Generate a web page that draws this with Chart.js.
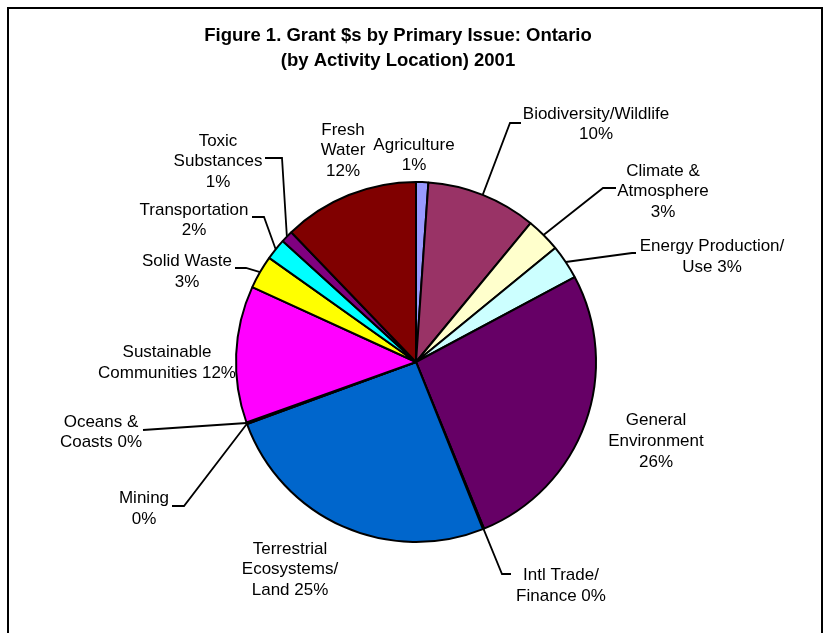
<!DOCTYPE html>
<html>
<head>
<meta charset="utf-8">
<script src="https://cdn.jsdelivr.net/npm/chart.js@4"></script>
<style>
html,body{margin:0;padding:0;background:#fff;}
#wrap{width:831px;height:633px;position:relative;}
</style>
</head>
<body>
<div id="wrap"><canvas id="c" width="831" height="633"></canvas></div>
<script>
// ---- data ----
const categories = ["Agriculture","Biodiversity/Wildlife","Climate & Atmosphere","Energy Production/Use","General Environment","Intl Trade/Finance","Terrestrial Ecosystems/Land","Mining","Oceans & Coasts","Sustainable Communities","Solid Waste","Transportation","Toxic Substances","Fresh Water"];
const shares = [1.1, 9.9, 3.1, 3.1, 26.7, 0.1, 25.5, 0.05, 0.1, 12.3, 3.0, 1.9, 1.1, 12.2];
const pctLabels = ["1%","10%","3%","3%","26%","0%","25%","0%","0%","12%","3%","2%","1%","12%"];
const labelLines = [
  ["Agriculture","1%"],
  ["Biodiversity/Wildlife","10%"],
  ["Climate &","Atmosphere","3%"],
  ["Energy Production/","Use 3%"],
  ["General","Environment","26%"],
  ["Intl Trade/","Finance 0%"],
  ["Terrestrial","Ecosystems/","Land 25%"],
  ["Mining","0%"],
  ["Oceans &","Coasts 0%"],
  ["Sustainable","Communities 12%"],
  ["Solid Waste","3%"],
  ["Transportation","2%"],
  ["Toxic","Substances","1%"],
  ["Fresh","Water","12%"]
];
const titleLines = ["Figure 1. Grant $s by Primary Issue: Ontario","(by Activity Location) 2001"];

// ---- styles / layout ----
const colors = ["#9999FF","#993366","#FFFFCC","#CCFFFF","#660066","#FF8080","#0066CC","#CCCCFF","#000080","#FF00FF","#FFFF00","#00FFFF","#800080","#800000"];
// label placement: cx, first line y, line gap, leader elbow + end (null = no leader)
const labelLayout = [
  {cx:414, y:145, gap:20.5, leader:null},
  {cx:596, y:114, gap:20.5, leader:[[510,123],[521,123]]},
  {cx:663, y:171, gap:20.5, leader:[[603,188],[616,188]]},
  {cx:712, y:246, gap:21, leader:[[632,253],[636,253]]},
  {cx:656, y:420, gap:21, leader:null},
  {cx:561, y:575, gap:21, leader:[[502,574],[511,574]]},
  {cx:290, y:549, gap:20.5, leader:null},
  {cx:144, y:498, gap:21, leader:[[184,506],[172,506]]},
  {cx:101, y:422, gap:20, leader:[[143,430],[143,430]]},
  {cx:167, y:352, gap:21, leader:null},
  {cx:187, y:261, gap:21, leader:[[246,268],[235,268]]},
  {cx:194, y:210, gap:20, leader:[[264,217],[252,217]]},
  {cx:218, y:141, gap:20.5, leader:[[282,158],[265,158]]},
  {cx:343, y:130, gap:20.5, leader:null}
];
const FONT = '17px "Liberation Sans", Arial, sans-serif';
const TITLE_FONT = 'bold 18.5px "Liberation Sans", Arial, sans-serif';

const decor = {
  id:'decor',
  afterDraw(chart){
    const ctx = chart.ctx;
    ctx.save();
    // outer frame
    ctx.strokeStyle = '#000';
    ctx.lineWidth = 2;
    ctx.strokeRect(8, 8, 814, 640);
    // title
    ctx.fillStyle = '#000';
    ctx.font = TITLE_FONT;
    ctx.textAlign = 'center';
    ctx.textBaseline = 'middle';
    ctx.fillText(titleLines[0], 398, 36);
    ctx.fillText(titleLines[1], 398, 61);
    // leaders + labels
    const meta = chart.getDatasetMeta(0);
    meta.data.forEach((arc, i) => {
      const L = labelLayout[i];
      if (L.leader) {
        const p = arc.getProps(['x','y','startAngle','endAngle','outerRadius'], true);
        const mid = (p.startAngle + p.endAngle) / 2;
        const sx = p.x + Math.cos(mid) * p.outerRadius;
        const sy = p.y + Math.sin(mid) * p.outerRadius;
        ctx.beginPath();
        ctx.strokeStyle = '#000';
        ctx.lineWidth = 1.8;
        ctx.moveTo(sx, sy);
        ctx.lineTo(L.leader[0][0], L.leader[0][1]);
        ctx.lineTo(L.leader[1][0], L.leader[1][1]);
        ctx.stroke();
      }
      ctx.font = FONT;
      ctx.fillStyle = '#000';
      ctx.textAlign = 'center';
      ctx.textBaseline = 'middle';
      labelLines[i].forEach((t, k) => ctx.fillText(t, L.cx, L.y + k * L.gap));
    });
    ctx.restore();
  }
};

new Chart(document.getElementById('c'), {
  type: 'pie',
  data: {
    labels: categories,
    datasets: [{
      data: shares,
      backgroundColor: colors,
      borderColor: '#000',
      borderWidth: 2
    }]
  },
  options: {
    responsive: false,
    animation: false,
    devicePixelRatio: 1,
    layout: {padding: {top: 181, bottom: 90, left: 235, right: 234}},
    plugins: {legend: {display: false}, tooltip: {enabled: false}, title: {display: false}}
  },
  plugins: [decor]
});
</script>
</body>
</html>
